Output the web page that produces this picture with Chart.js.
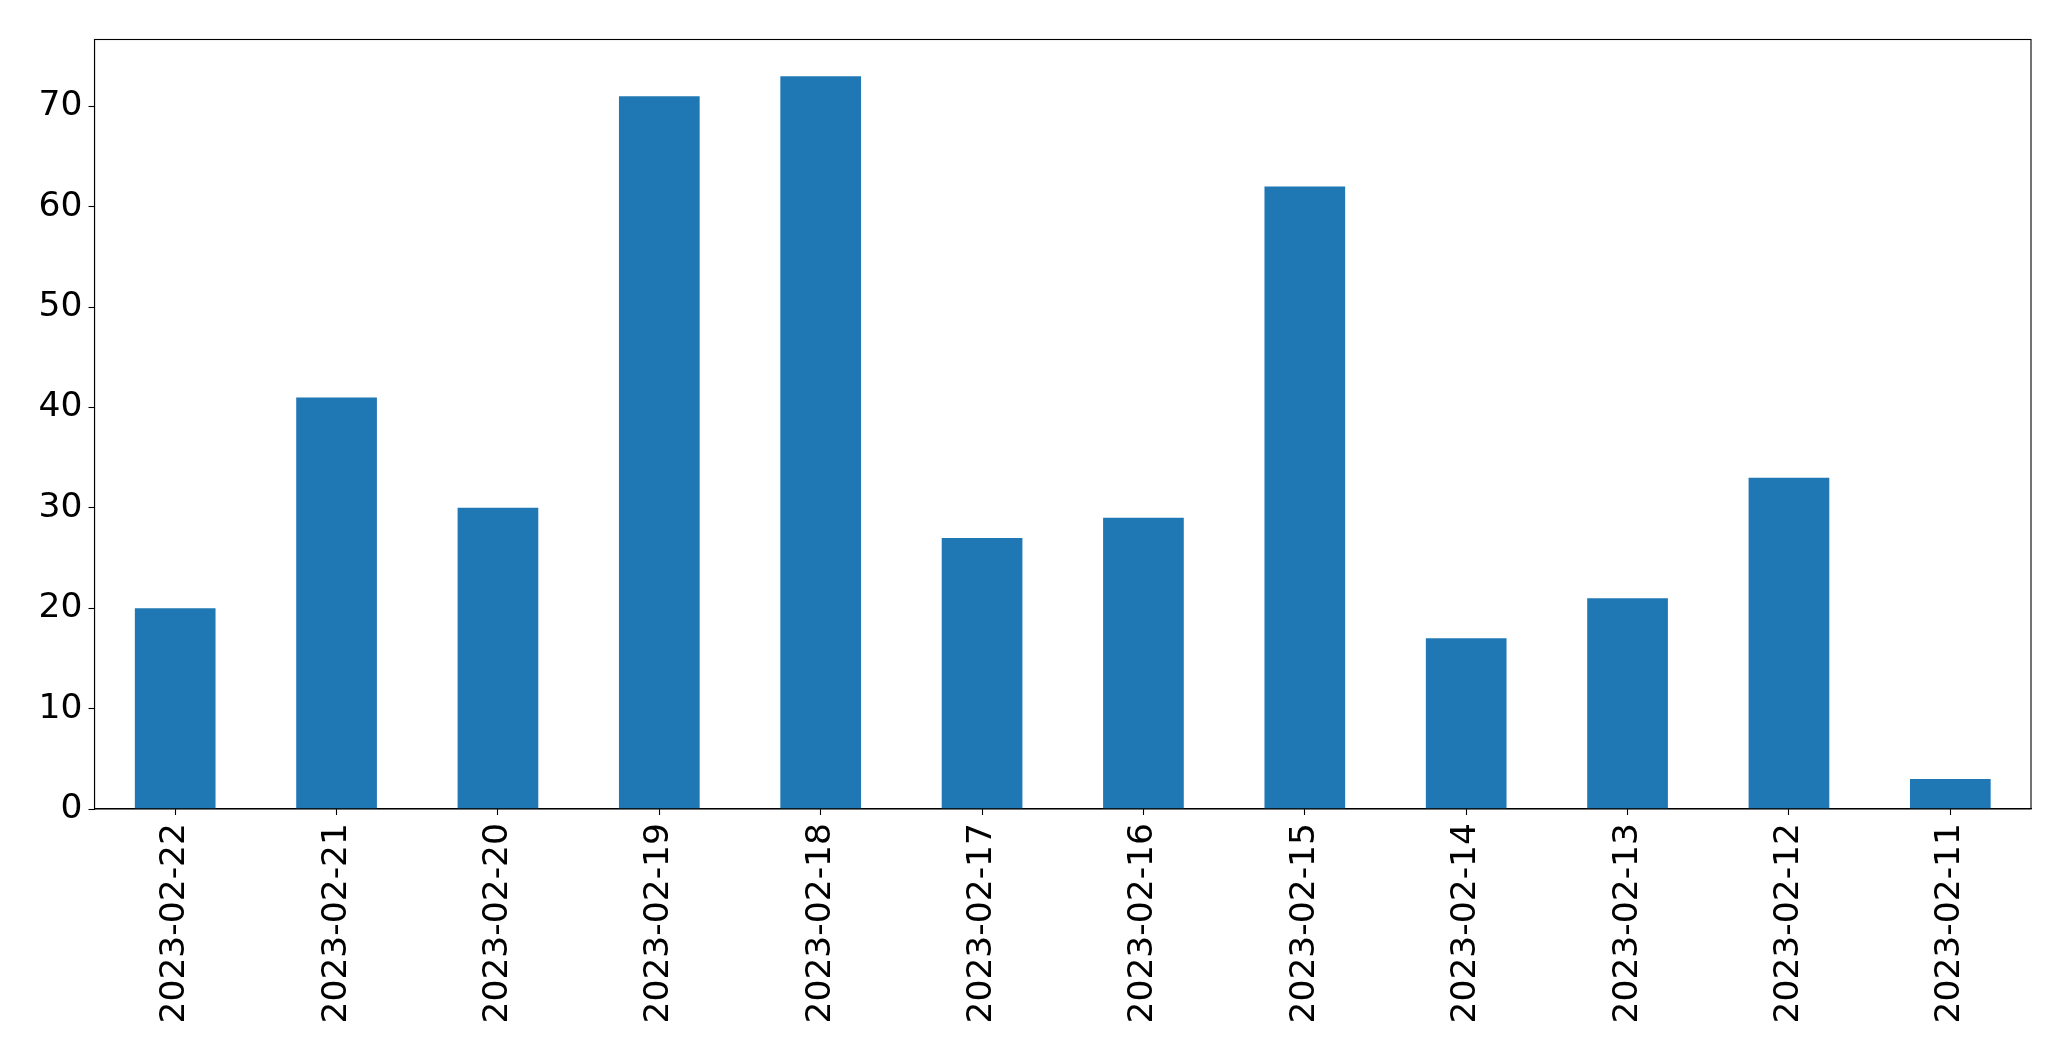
<!DOCTYPE html>
<html>
<head>
<meta charset="utf-8">
<script src="https://cdn.jsdelivr.net/npm/chart.js@4/dist/chart.umd.min.js"></script>
<style>
  html, body { margin: 0; padding: 0; background: #fff; }
  canvas { display: block; }
</style>
</head>
<body>
<canvas id="barChart" width="2071" height="1061"></canvas>
<script>
// data
var dates = ['2023-02-22', '2023-02-21', '2023-02-20', '2023-02-19', '2023-02-18', '2023-02-17',
             '2023-02-16', '2023-02-15', '2023-02-14', '2023-02-13', '2023-02-12', '2023-02-11'];
var counts = [20, 41, 30, 71, 73, 27, 29, 62, 17, 21, 33, 3];
var yMax = 76.65;
var yStep = 10;

// draws the box around the plot area (top and right spines too)
var frame = {
    id: 'frame',
    afterDraw: function (chart) {
        var a = chart.chartArea, c = chart.ctx;
        c.save();
        c.strokeStyle = '#000';
        c.lineWidth = 1.1;
        c.strokeRect(a.left, a.top, a.right - a.left, a.bottom - a.top);
        c.restore();
    }
};

var font = { family: 'DejaVu Sans', size: 34.5 };

var ctxB = document.getElementById('barChart').getContext('2d');
var barChart = new Chart(ctxB, {
    type: 'bar',
    data: {
        labels: dates,
        datasets: [{
            data: counts,
            backgroundColor: '#1f77b4',
            barPercentage: 0.5,
            categoryPercentage: 1.0
        }]
    },
    options: {
        responsive: false,
        animation: false,
        layout: { padding: { top: 39.5, right: 40, left: 0, bottom: 0 } },
        plugins: {
            legend: { display: false },
            tooltip: { enabled: false }
        },
        scales: {
            x: {
                offset: true,
                grid: { offset: false, drawOnChartArea: false, tickLength: 6, tickColor: '#000', tickWidth: 1.1 },
                border: { color: '#000', width: 1.1 },
                ticks: { color: '#000', font: font, minRotation: 90, maxRotation: 90, padding: 8, autoSkip: false },
                afterFit: function (s) { s.height = 252; }
            },
            y: {
                min: 0,
                max: yMax,
                grid: { drawOnChartArea: false, tickLength: 6, tickColor: '#000', tickWidth: 1.1 },
                border: { color: '#000', width: 1.1 },
                ticks: { color: '#000', font: font, stepSize: yStep, includeBounds: false, padding: 6 },
                afterFit: function (s) { s.width = 94.5; }
            }
        }
    },
    plugins: [frame]
});
</script>
</body>
</html>
